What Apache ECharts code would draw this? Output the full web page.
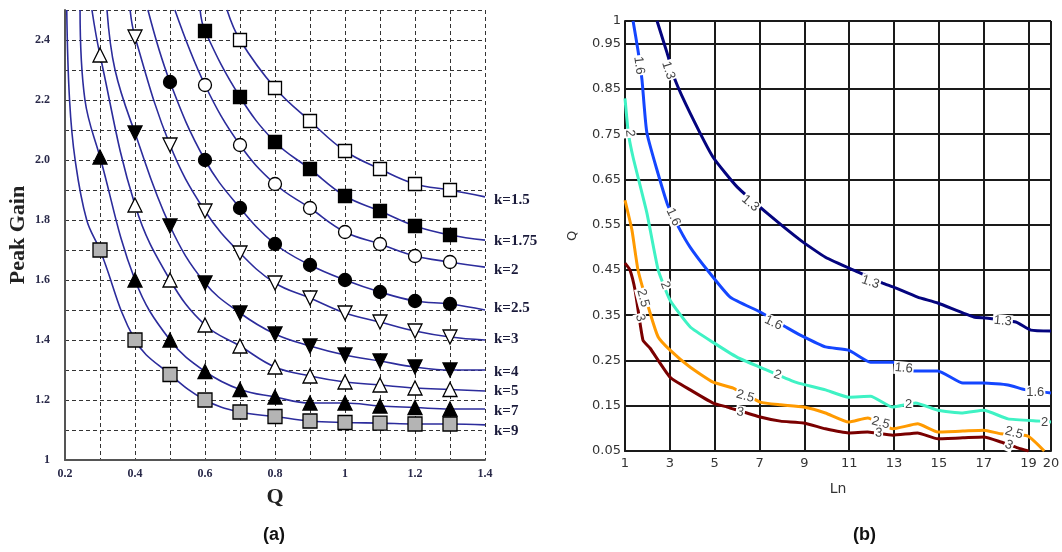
<!DOCTYPE html>
<html><head><meta charset="utf-8">
<script src="https://cdn.jsdelivr.net/npm/echarts@6/dist/echarts.min.js"></script>
<style>html,body{margin:0;padding:0;background:#fff}#c{width:1062px;height:552px}</style>
</head><body><div id="c"></div>
<script>
// ---------- Panel (a): Peak Gain vs Q ----------
const qMarks = [0.3,0.4,0.5,0.6,0.7,0.8,0.9,1.0,1.1,1.2,1.3];
const kLabels = ['k=1.5','k=1.75','k=2','k=2.5','k=3','k=4','k=5','k=7','k=9'];
const gainK15  = [null,null,null,null,2.40,2.24,2.13,2.03,1.97,1.92,1.90];
const gainK175 = [null,null,null,2.43,2.21,2.06,1.97,1.88,1.83,1.78,1.75];
const gainK2   = [null,null,null,2.25,2.05,1.92,1.84,1.76,1.72,1.68,1.66];
const gainK25  = [null,null,2.26,2.00,1.84,1.72,1.65,1.60,1.56,1.53,1.52];
const gainK3   = [null,2.41,2.05,1.83,1.69,1.59,1.54,1.49,1.46,1.43,1.41];
const gainK4   = [null,2.09,1.78,1.59,1.49,1.42,1.38,1.35,1.33,1.31,1.30];
const gainK5   = [2.35,1.85,1.60,1.45,1.38,1.31,1.28,1.26,1.25,1.24,1.235];
const gainK7   = [2.01,1.60,1.40,1.295,1.235,1.21,1.19,1.19,1.18,1.175,1.17];
const gainK9   = [1.70,1.40,1.285,1.20,1.16,1.145,1.13,1.125,1.123,1.12,1.12];
const headK15  = [[0.663,2.5]];
const headK175 = [[0.586,2.5]];
const headK2   = [[0.514,2.5]];
const headK25  = [[0.437,2.5]];
const headK3   = [[0.386,2.5]];
const headK4   = [[0.32,2.5],[0.343,2.3]];
const headK5   = [[0.277,2.5]];
const headK7   = [[0.243,2.5],[0.257,2.2]];
const headK9   = [[0.205,2.5],[0.213,2.2],[0.229,2.0],[0.262,1.8]];
const tailQ = 1.4;
const tailGain = [1.877,1.733,1.643,1.50,1.40,1.30,1.23,1.17,1.117];

// ---------- Panel (b): contours Q vs Ln ----------
const contourLevels = ['1.3','1.6','2','2.5','3'];
const c13 = [[2.43,1.0],[2.88,0.929],[3.24,0.869],[3.91,0.796],[4.93,0.699],[6.01,0.633],[7.35,0.575],[8.82,0.516],[9.94,0.478],[11.4,0.445],[12.49,0.421],[12.98,0.412],[14.05,0.39],[14.95,0.377],[16.56,0.346],[17.09,0.344],[18.43,0.335],[19.1,0.317],[20,0.315]];
const c16 = [[1.36,1.0],[1.58,0.935],[1.76,0.869],[1.98,0.752],[2.88,0.597],[3.46,0.538],[3.91,0.50],[4.67,0.45],[5.69,0.39],[7.03,0.357],[8.24,0.322],[8.82,0.306],[9.94,0.28],[10.97,0.273],[11.95,0.246],[12.94,0.246],[13.87,0.227],[14.95,0.227],[16.07,0.20],[17.0,0.20],[18.08,0.196],[18.88,0.185],[20,0.178]];
const c2 = [[1.0,0.829],[1.15,0.752],[1.36,0.699],[1.98,0.575],[2.48,0.45],[3.01,0.383],[3.91,0.324],[4.93,0.29],[6.01,0.257],[7.03,0.235],[8.6,0.202],[9.94,0.185],[10.97,0.169],[11.95,0.171],[12.94,0.147],[13.96,0.156],[14.95,0.14],[16.07,0.134],[17.0,0.14],[18.08,0.121],[19.55,0.116],[20,0.114]];
const c25 = [[1.0,0.604],[1.31,0.538],[1.58,0.45],[2.12,0.355],[2.48,0.302],[3.01,0.273],[3.91,0.235],[4.93,0.202],[5.83,0.189],[7.03,0.158],[7.93,0.152],[8.96,0.147],[9.94,0.134],[10.97,0.114],[11.82,0.123],[12.94,0.099],[14.05,0.11],[14.95,0.092],[16.07,0.094],[17.0,0.096],[17.76,0.088],[18.97,0.083],[19.7,0.05]];
const c3 = [[1.0,0.465],[1.22,0.45],[1.45,0.405],[1.8,0.295],[2.12,0.277],[3.01,0.213],[3.91,0.185],[4.93,0.156],[5.56,0.147],[7.03,0.125],[7.93,0.116],[8.96,0.112],[9.94,0.099],[10.97,0.09],[11.82,0.092],[12.94,0.085],[14.05,0.09],[14.95,0.077],[16.07,0.079],[17.0,0.081],[17.76,0.07],[18.52,0.057],[19.0,0.05]];
// inline contour label anchors
const lab13 = [[2.93,0.891],[6.59,0.597],[11.95,0.423],[17.85,0.337]];
const lab16 = [[1.63,0.902],[3.15,0.567],[7.62,0.333],[13.43,0.233],[19.3,0.18]];
const lab2  = [[1.22,0.752],[2.79,0.416],[7.8,0.218],[13.65,0.152],[19.72,0.114]];
const lab25 = [[1.8,0.388],[6.36,0.171],[12.4,0.112],[18.35,0.09]];
const lab3  = [[1.67,0.344],[6.14,0.136],[12.31,0.09],[18.12,0.063]];

// ---------- styles ----------
const rot13 = [-72,-40,-18,-5], rot16 = [-82,-65,-25,-5,0], rot2 = [-85,-68,-18,0,0], rot25 = [-75,-15,-15,-15], rot3 = [-75,-10,-5,-25];
const contourColors = ['#04047e','#1446ff','#3ff2c4','#ff9a00','#7a0000'];
const curveColor = '#2c2c9c';
const serif = '"Liberation Serif","DejaVu Serif",serif';
const sans = '"Liberation Sans",Arial,sans-serif';
const sansWide = '"DejaVu Sans","Liberation Sans",sans-serif';
const markerStyles = [
  {symbol:'rect', fill:'#ffffff', rot:0, size:13},
  {symbol:'rect', fill:'#000000', rot:0, size:13},
  {symbol:'circle', fill:'#ffffff', rot:0, size:13},
  {symbol:'circle', fill:'#000000', rot:0, size:13},
  {symbol:'triangle', fill:'#ffffff', rot:180, size:14},
  {symbol:'triangle', fill:'#000000', rot:180, size:14},
  {symbol:'triangle', fill:'#ffffff', rot:0, size:14},
  {symbol:'triangle', fill:'#000000', rot:0, size:14},
  {symbol:'rect', fill:'#b4b4b4', rot:0, size:14}
];
const labelOffsets = [[0,3],[0,1],[0,3],[0,-2],[0,-1],[0,2],[0,0],[0,2],[0,6]];

const gainsAll = [gainK15,gainK175,gainK2,gainK25,gainK3,gainK4,gainK5,gainK7,gainK9];
const headsAll = [headK15,headK175,headK2,headK25,headK3,headK4,headK5,headK7,headK9];

const series = [];
gainsAll.forEach((g, i) => {
  const marks = qMarks.map((q, j) => g[j] == null ? null : [q, g[j]]).filter(p => p);
  const curve = headsAll[i].concat(marks).concat([[tailQ, tailGain[i]]]);
  series.push({
    type:'line', xAxisIndex:0, yAxisIndex:0, data:curve, showSymbol:false, symbol:'none',
    smooth:0.4, clip:true, silent:true,
    lineStyle:{color:curveColor, width:1.6}, z:2,
    endLabel:{show:true, formatter:kLabels[i], color:'#1a1a3a', fontFamily:serif, fontWeight:'bold',
      fontSize:15, distance:9, offset:labelOffsets[i]}
  });
  const ms = markerStyles[i];
  series.push({
    type:'scatter', xAxisIndex:0, yAxisIndex:0, data:marks, symbol:ms.symbol, symbolSize:ms.size,
    symbolRotate:ms.rot, silent:true, z:3,
    itemStyle:{color:ms.fill, borderColor:'#000', borderWidth:1.3, opacity:1}
  });
});

const contourData = [c13,c16,c2,c25,c3];
const labData = [lab13,lab16,lab2,lab25,lab3];
const rotData = [rot13,rot16,rot2,rot25,rot3];
contourData.forEach((c, i) => {
  series.push({
    type:'line', xAxisIndex:2, yAxisIndex:2, data:c, showSymbol:false, symbol:'none', smooth:0.15,
    silent:true, clip:true, lineStyle:{color:contourColors[i], width:3}, z:2
  });
  series.push({
    type:'scatter', xAxisIndex:2, yAxisIndex:2, symbol:'circle', symbolSize:1, silent:true, z:4,
    itemStyle:{opacity:0},
    data: labData[i].map((p, j) => ({value:p, label:{show:true, position:'inside', formatter:contourLevels[i],
      rotate:rotData[i][j], color:'#444', fontFamily:sans, fontSize:13, backgroundColor:'#fff',
      padding:[0,1], opacity:1}}))
  });
});

const fmtA = v => {
  const t = Math.round(v * 10);
  if (t % 2 !== 0) return '';
  if (t === 10) return '1';
  return (t / 10).toFixed(1);
};
const fmtAx = v => {
  const t = Math.round(v * 10);
  if (t % 2 !== 0) return '';
  if (t === 10) return '1';
  return String(t / 10);
};
const dashed = {show:true, lineStyle:{color:'#333', width:1, type:[4,3]}};
const solidGrid = {show:true, lineStyle:{color:'#1a1a1a', width:2, type:'solid'}};

const option = {
  animation:false,
  backgroundColor:'#ffffff',
  grid:[
    {left:65, top:10, width:420, height:450, containLabel:false, outerBoundsMode:'none'},
    {left:625, top:21, width:426, height:430, containLabel:false, outerBoundsMode:'none'}
  ],
  xAxis:[
    {type:'value', gridIndex:0, position:'bottom', min:0.2, max:1.4, interval:0.1, name:'Q', nameLocation:'middle', nameGap:26,
      nameTextStyle:{fontFamily:serif, fontWeight:'bold', fontSize:22, color:'#222'},
      axisLine:{show:true, lineStyle:{color:'#555', width:2}}, axisTick:{show:false},
      axisLabel:{formatter:fmtAx, fontFamily:serif, fontWeight:'bold', fontSize:12, color:'#2a2a4a', margin:8, showMinLabel:true, showMaxLabel:true},
      splitLine:dashed},
    {type:'value', gridIndex:0, min:0.2, max:1.4, position:'top', show:false},
    {type:'value', gridIndex:1, min:1, max:20, position:'top', show:false},
    {type:'value', gridIndex:1, position:'bottom', min:0, max:19, interval:2, name:'Ln', nameLocation:'middle', nameGap:31,
      nameTextStyle:{fontFamily:sansWide, fontSize:14, color:'#333'},
      axisLine:{show:true, onZero:false, lineStyle:{color:'#1a1a1a', width:2}}, axisTick:{show:false},
      axisLabel:{formatter:v => String(Math.round(v) + 1), fontFamily:sansWide, fontSize:13, color:'#333', margin:6, showMinLabel:true, showMaxLabel:true},
      splitLine:solidGrid}
  ],
  yAxis:[
    {type:'value', gridIndex:0, position:'left', min:1, max:2.5, interval:0.1, name:'Peak Gain', nameLocation:'middle', nameGap:36,
      nameTextStyle:{fontFamily:serif, fontWeight:'bold', fontSize:22, color:'#222'},
      axisLine:{show:true, lineStyle:{color:'#555', width:2}}, axisTick:{show:false},
      axisLabel:{formatter:fmtA, fontFamily:serif, fontWeight:'bold', fontSize:12, color:'#2a2a4a', margin:15, showMinLabel:true, showMaxLabel:true},
      splitLine:dashed},
    {type:'value', gridIndex:0, min:1, max:2.5, position:'right', show:false},
    {type:'value', gridIndex:1, min:0.05, max:1, position:'right', show:false},
    {type:'value', gridIndex:1, position:'left', min:0, max:0.95, interval:0.1, name:'Q', nameLocation:'middle', nameGap:46,
      nameTextStyle:{fontFamily:sansWide, fontSize:13, color:'#333'},
      axisLine:{show:true, onZero:false, lineStyle:{color:'#1a1a1a', width:2}}, axisTick:{show:false},
      axisLabel:{formatter:v => { const q = Math.round((v + 0.05) * 100) / 100; return q === 1 ? '1' : q.toFixed(2); },
        fontFamily:sansWide, fontSize:13, color:'#333', margin:4, showMinLabel:true, showMaxLabel:true},
      splitLine:solidGrid}
  ],
  graphic:[
    {type:'text', left:263, top:526, style:{text:'(a)', font:'bold 18px "Liberation Sans", Arial, sans-serif', fill:'#111'}},
    {type:'text', left:853, top:526, style:{text:'(b)', font:'bold 18px "Liberation Sans", Arial, sans-serif', fill:'#111'}}
  ],
  series: series
};
const chart = echarts.init(document.getElementById('c'), null, {renderer:'canvas'});
chart.setOption(option);
</script></body></html>
